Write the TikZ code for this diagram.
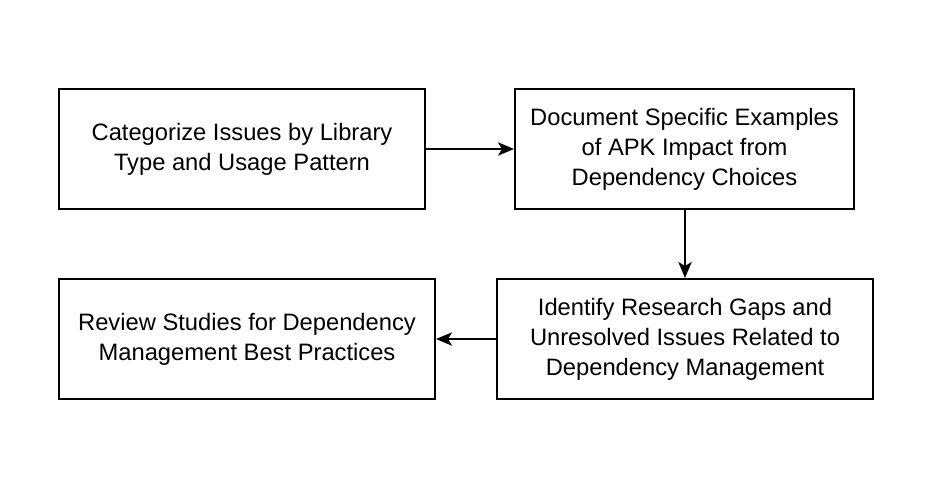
\documentclass[tikz,border=0pt]{standalone}
\usepackage{fontspec}
\setmainfont{Liberation Sans}
\usetikzlibrary{arrows.meta}
\begin{document}
\begin{tikzpicture}[x=0.75pt,y=-0.75pt,
  box/.style={draw,line width=1.5pt,align=center,minimum height=120*0.75pt,font=\fontsize{17.8}{22.5}\selectfont},
  conn/.style={-{Stealth[length=12pt,width=10pt,inset=3pt]},line width=1.5pt}]
\useasboundingbox (0,0) rectangle (930,490);
\node[box,minimum width=366*0.75pt] (a) at (242,149) {Categorize Issues by Library\\Type and Usage Pattern};
\node[box,minimum width=339*0.75pt] (b) at (684.5,149) {Document Specific Examples\\of APK Impact from\\Dependency Choices};
\node[box,minimum width=376*0.75pt] (c) at (685,339) {Identify Research Gaps and\\Unresolved Issues Related to\\Dependency Management};
\node[box,minimum width=376*0.75pt] (d) at (247,339) {Review Studies for Dependency\\Management Best Practices};
\draw[conn] (a) -- (b);
\draw[conn] (b.south -| c.north) -- (c.north);
\draw[conn] (c) -- (d);
\end{tikzpicture}
\end{document}
